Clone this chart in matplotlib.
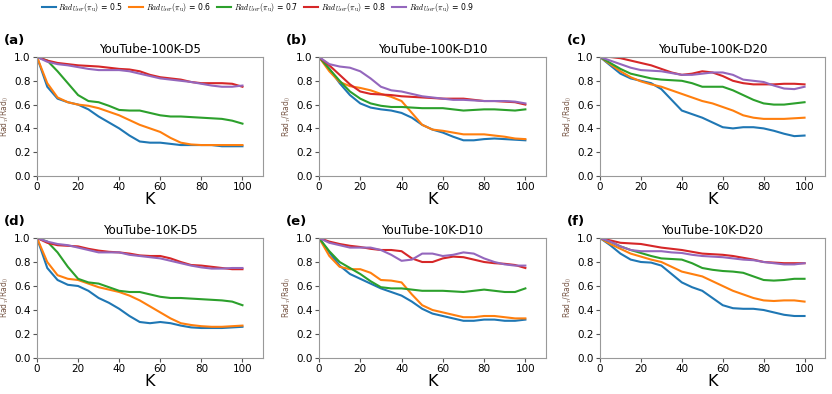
import numpy as np
import matplotlib
matplotlib.use("Agg")
import matplotlib.pyplot as plt
from matplotlib import font_manager

plt.rcParams['mathtext.fontset'] = 'cm'

K = [0, 5, 10, 15, 20, 25, 30, 35, 40, 45, 50, 55, 60, 65, 70, 75, 80, 85, 90, 95, 100]
rad_values = [0.5, 0.6, 0.7, 0.8, 0.9]
colors = ['#1f77b4', '#ff7f0e', '#2ca02c', '#d62728', '#9467bd']
titles = ['YouTube-100K-D5', 'YouTube-100K-D10', 'YouTube-100K-D20',
          'YouTube-10K-D5', 'YouTube-10K-D10', 'YouTube-10K-D20']
panel_labels = ['(a)', '(b)', '(c)', '(d)', '(e)', '(f)']

a_05 = [1.0, 0.75, 0.65, 0.62, 0.60, 0.56, 0.50, 0.45, 0.40, 0.34, 0.29, 0.28, 0.28, 0.27, 0.26, 0.26, 0.26, 0.26, 0.25, 0.25, 0.25]
a_06 = [1.0, 0.78, 0.66, 0.62, 0.60, 0.59, 0.57, 0.54, 0.51, 0.47, 0.43, 0.40, 0.37, 0.32, 0.28, 0.265, 0.26, 0.26, 0.26, 0.26, 0.26]
a_07 = [1.0, 0.97, 0.88, 0.78, 0.68, 0.63, 0.62, 0.59, 0.555, 0.55, 0.55, 0.53, 0.51, 0.50, 0.50, 0.495, 0.49, 0.485, 0.48, 0.465, 0.44]
a_08 = [1.0, 0.97, 0.95, 0.94, 0.93, 0.925, 0.92, 0.91, 0.90, 0.895, 0.88, 0.85, 0.83, 0.82, 0.81, 0.79, 0.78, 0.78, 0.78, 0.775, 0.75]
a_09 = [1.0, 0.96, 0.94, 0.93, 0.915, 0.90, 0.89, 0.89, 0.89, 0.88, 0.86, 0.84, 0.82, 0.81, 0.80, 0.79, 0.775, 0.76, 0.75, 0.75, 0.76]

b_05 = [1.0, 0.90, 0.78, 0.68, 0.61, 0.575, 0.56, 0.55, 0.53, 0.49, 0.43, 0.39, 0.365, 0.33, 0.30, 0.30, 0.31, 0.315, 0.31, 0.305, 0.30]
b_06 = [1.0, 0.88, 0.79, 0.755, 0.74, 0.72, 0.69, 0.665, 0.63, 0.53, 0.43, 0.39, 0.38, 0.365, 0.35, 0.35, 0.35, 0.34, 0.33, 0.315, 0.31]
b_07 = [1.0, 0.90, 0.80, 0.71, 0.65, 0.61, 0.59, 0.58, 0.58, 0.575, 0.57, 0.57, 0.57, 0.56, 0.55, 0.555, 0.56, 0.56, 0.555, 0.55, 0.56]
b_08 = [1.0, 0.93, 0.85, 0.77, 0.71, 0.69, 0.685, 0.68, 0.67, 0.665, 0.66, 0.655, 0.65, 0.65, 0.65, 0.64, 0.63, 0.63, 0.625, 0.62, 0.60]
b_09 = [1.0, 0.94, 0.92, 0.91, 0.88, 0.82, 0.75, 0.72, 0.71, 0.69, 0.67, 0.66, 0.65, 0.64, 0.64, 0.635, 0.63, 0.63, 0.63, 0.625, 0.61]

c_05 = [1.0, 0.93, 0.86, 0.82, 0.80, 0.78, 0.73, 0.64, 0.55, 0.52, 0.49, 0.45, 0.41, 0.40, 0.41, 0.41, 0.40, 0.38, 0.355, 0.335, 0.34]
c_06 = [1.0, 0.94, 0.88, 0.83, 0.795, 0.77, 0.75, 0.72, 0.69, 0.66, 0.63, 0.61, 0.58, 0.55, 0.51, 0.49, 0.48, 0.48, 0.48, 0.485, 0.49]
c_07 = [1.0, 0.95, 0.90, 0.86, 0.84, 0.82, 0.81, 0.805, 0.80, 0.78, 0.75, 0.75, 0.75, 0.72, 0.68, 0.64, 0.61, 0.60, 0.60, 0.61, 0.62]
c_08 = [1.0, 1.0, 0.99, 0.97, 0.95, 0.93, 0.90, 0.87, 0.85, 0.86, 0.88, 0.87, 0.84, 0.80, 0.78, 0.77, 0.77, 0.77, 0.775, 0.775, 0.77]
c_09 = [1.0, 0.97, 0.94, 0.91, 0.89, 0.885, 0.88, 0.865, 0.85, 0.85, 0.86, 0.87, 0.87, 0.85, 0.81, 0.80, 0.79, 0.76, 0.735, 0.73, 0.75]

d_05 = [1.0, 0.75, 0.65, 0.61, 0.60, 0.56, 0.50, 0.46, 0.41, 0.35, 0.30, 0.29, 0.30, 0.29, 0.27, 0.255, 0.25, 0.25, 0.25, 0.255, 0.26]
d_06 = [1.0, 0.80, 0.69, 0.66, 0.65, 0.62, 0.59, 0.57, 0.55, 0.52, 0.48, 0.43, 0.38, 0.33, 0.29, 0.275, 0.265, 0.26, 0.26, 0.265, 0.27]
d_07 = [1.0, 0.97, 0.88, 0.76, 0.66, 0.63, 0.62, 0.59, 0.56, 0.55, 0.55, 0.53, 0.51, 0.50, 0.50, 0.495, 0.49, 0.485, 0.48, 0.47, 0.44]
d_08 = [1.0, 0.96, 0.94, 0.935, 0.93, 0.91, 0.895, 0.885, 0.88, 0.87, 0.855, 0.85, 0.85, 0.83, 0.80, 0.775, 0.77, 0.76, 0.75, 0.74, 0.74]
d_09 = [1.0, 0.97, 0.95, 0.94, 0.92, 0.90, 0.88, 0.88, 0.88, 0.86, 0.85, 0.84, 0.83, 0.81, 0.79, 0.77, 0.755, 0.745, 0.745, 0.75, 0.75]

e_05 = [1.0, 0.88, 0.77, 0.70, 0.66, 0.62, 0.58, 0.55, 0.52, 0.47, 0.41, 0.37, 0.35, 0.33, 0.31, 0.31, 0.32, 0.32, 0.31, 0.31, 0.32]
e_06 = [1.0, 0.85, 0.76, 0.74, 0.74, 0.71, 0.65, 0.645, 0.63, 0.53, 0.44, 0.40, 0.38, 0.36, 0.34, 0.34, 0.35, 0.35, 0.34, 0.33, 0.33]
e_07 = [1.0, 0.89, 0.80, 0.75, 0.70, 0.64, 0.59, 0.58, 0.58, 0.57, 0.56, 0.56, 0.56, 0.555, 0.55, 0.56, 0.57, 0.56, 0.55, 0.55, 0.58]
e_08 = [1.0, 0.97, 0.95, 0.935, 0.925, 0.91, 0.90, 0.90, 0.89, 0.83, 0.80, 0.80, 0.83, 0.845, 0.84, 0.82, 0.80, 0.79, 0.785, 0.775, 0.75]
e_09 = [1.0, 0.96, 0.94, 0.92, 0.92, 0.92, 0.90, 0.86, 0.81, 0.82, 0.87, 0.87, 0.85, 0.86, 0.88, 0.87, 0.83, 0.80, 0.78, 0.77, 0.77]

f_05 = [1.0, 0.94, 0.87, 0.82, 0.80, 0.795, 0.77, 0.70, 0.63, 0.59, 0.56, 0.50, 0.44, 0.415, 0.41, 0.41, 0.40, 0.38, 0.36, 0.35, 0.35]
f_06 = [1.0, 0.95, 0.91, 0.87, 0.845, 0.82, 0.80, 0.76, 0.72, 0.70, 0.68, 0.64, 0.60, 0.56, 0.53, 0.50, 0.48, 0.475, 0.48, 0.48, 0.47]
f_07 = [1.0, 0.97, 0.93, 0.90, 0.875, 0.85, 0.83, 0.825, 0.82, 0.79, 0.75, 0.735, 0.725, 0.72, 0.71, 0.68, 0.65, 0.645, 0.65, 0.66, 0.66]
f_08 = [1.0, 0.98, 0.96, 0.955, 0.95, 0.935, 0.92, 0.91, 0.90, 0.885, 0.87, 0.865, 0.86, 0.85, 0.835, 0.82, 0.80, 0.795, 0.79, 0.79, 0.79]
f_09 = [1.0, 0.97, 0.93, 0.90, 0.89, 0.89, 0.89, 0.88, 0.875, 0.86, 0.85, 0.845, 0.84, 0.83, 0.82, 0.815, 0.80, 0.79, 0.78, 0.78, 0.79]

panels = [
    [a_05, a_06, a_07, a_08, a_09],
    [b_05, b_06, b_07, b_08, b_09],
    [c_05, c_06, c_07, c_08, c_09],
    [d_05, d_06, d_07, d_08, d_09],
    [e_05, e_06, e_07, e_08, e_09],
    [f_05, f_06, f_07, f_08, f_09],
]

W, H = 832, 394
fig = plt.figure(figsize=(W / 100, H / 100), dpi=100)

lefts = [37, 319, 600]
widths = [226, 227, 225]
rows = [(57, 176), (238, 358)]

handles = []
for i in range(6):
    r, c = divmod(i, 3)
    top, bot = rows[r]
    ax = fig.add_axes([lefts[c] / W, 1 - bot / H, widths[c] / W, (bot - top) / H])
    for j, series in enumerate(panels[i]):
        ln, = ax.plot(K, series, color=colors[j], lw=1.5,
                      label=r'$Rad_{User}(\pi_{\mathrm{u}})$ = ' + f'{rad_values[j]}')
        if i == 0:
            handles.append(ln)
    ax.set_xlim(0, 110)
    ax.set_ylim(0, 1.0)
    ax.set_xticks([0, 20, 40, 60, 80, 100])
    ax.set_yticks([0.0, 0.2, 0.4, 0.6, 0.8, 1.0])
    ax.tick_params(labelsize=7.5, length=3, pad=1.5, color='#555555')
    for s in ax.spines.values():
        s.set_color('#999999')
    ax.set_title(titles[i], fontsize=8.5, pad=3)
    ax.set_xlabel('K', fontsize=11.5, labelpad=0)
    ax.set_ylabel(r'Rad$_T$/Rad$_0$', fontsize=5.5, color='#7a5a4a', labelpad=2)
    ax.text(-0.145, 1.08, panel_labels[i], transform=ax.transAxes,
            fontsize=9.5, fontweight='bold', va='bottom', ha='left')

installed = {f.name for f in font_manager.fontManager.ttflist}
leg_family = ['Liberation Sans Narrow', 'DejaVu Sans'] if 'Liberation Sans Narrow' in installed else ['DejaVu Sans']
leg_size = 7 if 'Liberation Sans Narrow' in installed else 5.6

fig.legend(handles=handles, loc='center left', bbox_to_anchor=(40 / W, 1 - 7 / H),
           ncol=5, frameon=False, prop={'family': leg_family, 'size': leg_size},
           handlelength=14 / (leg_size * 1.389), columnspacing=0.8,
           handletextpad=0.35, borderaxespad=0, borderpad=0.2)

fig.savefig('out.png', dpi=100)
